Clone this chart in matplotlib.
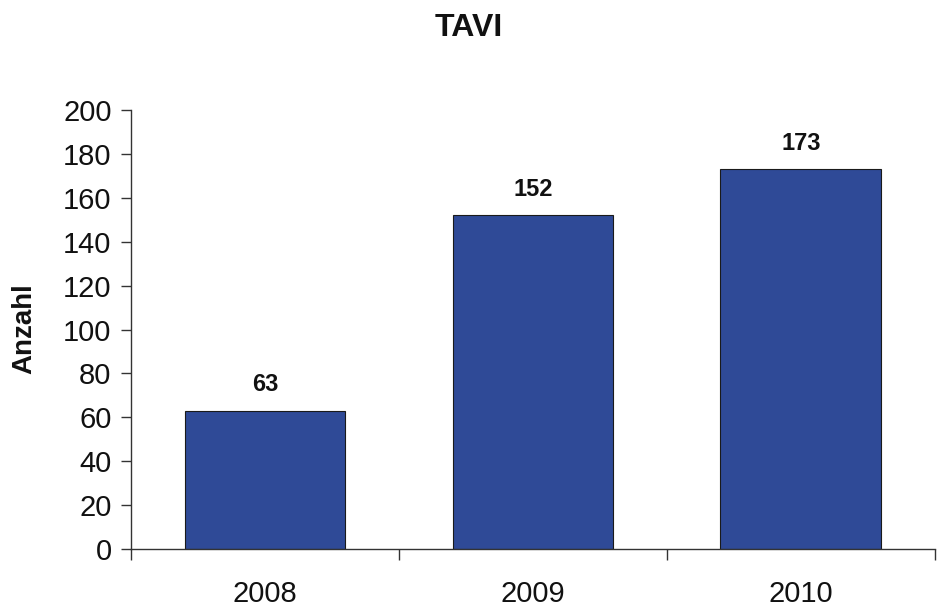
import matplotlib
matplotlib.use("Agg")
import matplotlib.pyplot as plt
import numpy as np

plt.rcParams['font.family'] = ['Liberation Sans', 'DejaVu Sans']

years = ["2008", "2009", "2010"]
counts = [63, 152, 173]
title = "TAVI"
ylabel = "Anzahl"

fig = plt.figure(figsize=(9.39, 6.08), dpi=100)
ax = fig.add_axes([0.1395, 0.097, 0.856, 0.722])

x = np.arange(len(years))
ax.bar(x, counts, width=0.6, color="#2F4A97", edgecolor="#1a1a1a", linewidth=0.8)

for xi, v in zip(x, counts):
    ax.annotate(str(v), (xi, v), xytext=(0, 14), textcoords="offset points",
                ha="center", va="baseline", fontsize=17, fontweight="bold",
                color="#111111")

ax.set_xlim(-0.5, len(years) - 0.5)
ax.set_ylim(0, 200)
ax.set_yticks(np.arange(0, 201, 20))
ax.tick_params(axis="y", labelsize=21, length=7, width=1, color="#333333",
               pad=7, labelcolor="#111111")

ax.set_xticks(x)
ax.set_xticklabels(years)
ax.set_xticks(np.arange(-0.5, len(years)), minor=True)
ax.tick_params(axis="x", which="major", length=0, labelsize=21, pad=22,
               labelcolor="#111111")
ax.tick_params(axis="x", which="minor", length=8, width=1, color="#333333")

for s in ["top", "right"]:
    ax.spines[s].set_visible(False)
for s in ["left", "bottom"]:
    ax.spines[s].set_color("#333333")
    ax.spines[s].set_linewidth(1)

fig.text(24 / 939, 1 - 329 / 608, ylabel, rotation=90, ha="center", va="center",
         fontsize=20, fontweight="bold", color="#111111")
fig.text(469 / 939, 1 - 28 / 608, title, ha="center", va="center",
         fontsize=23, fontweight="bold", color="#111111")

fig.savefig("out.png", dpi=100)
